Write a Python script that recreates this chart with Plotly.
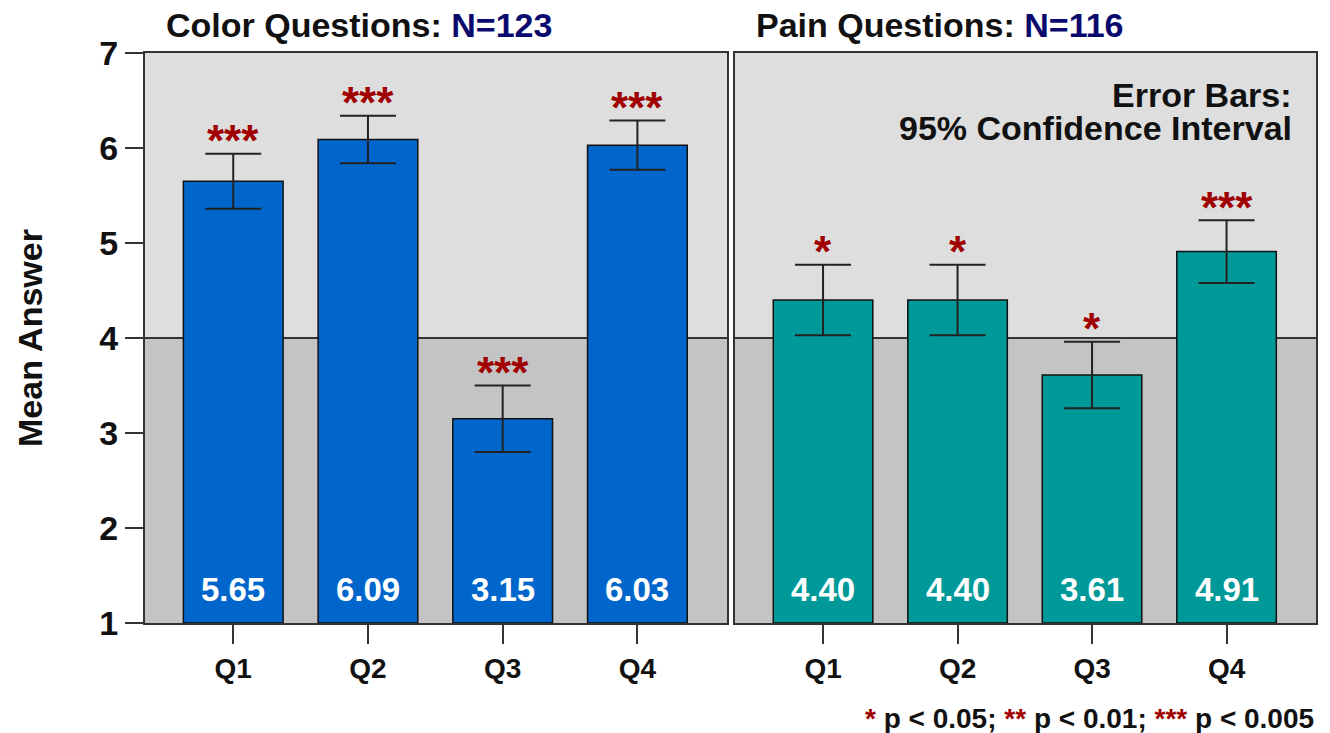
import plotly.graph_objects as go

categories = ["Q1", "Q2", "Q3", "Q4"]
color_means = [5.65, 6.09, 3.15, 6.03]
color_ci = [0.29, 0.25, 0.35, 0.26]
color_sig = ["***", "***", "***", "***"]
pain_means = [4.40, 4.40, 3.61, 4.91]
pain_ci = [0.37, 0.37, 0.35, 0.33]
pain_sig = ["*", "*", "*", "***"]
y_ticks = [1, 2, 3, 4, 5, 6, 7]
panel_titles = ["Color Questions: ", "Pain Questions: "]
panel_n = ["N=123", "N=116"]

FONT = "Liberation Sans, Arial, sans-serif"
BLUE = "#0066CC"
TEAL = "#009999"
UPPER = "#DEDEDE"
LOWER = "#C4C4C4"
RED = "#A00000"
NAVY = "#0A0A6E"
LINE = "#333333"

fig = go.Figure()

panels = [
    ("x", "y", color_means, color_ci, color_sig, BLUE),
    ("x2", "y2", pain_means, pain_ci, pain_sig, TEAL),
]

for i, (xa, ya, means, ci, sig, col) in enumerate(panels):
    fig.add_trace(go.Bar(
        x=categories, y=[m - 1 for m in means], base=1,
        xaxis=xa, yaxis=ya, width=0.74,
        marker=dict(color=col, line=dict(color="#111111", width=1.5)),
        error_y=dict(type="data", array=ci, visible=True, color="#222222",
                     thickness=2, width=28),
        hoverinfo="skip", showlegend=False,
    ))
    xref_dom = ("x" if i == 0 else "x2") + " domain"
    yref = "y" if i == 0 else "y2"
    # background bands
    fig.add_shape(type="rect", xref=xref_dom, yref=yref, x0=0, x1=1, y0=1, y1=4,
                  fillcolor=LOWER, line_width=0, layer="below")
    fig.add_shape(type="rect", xref=xref_dom, yref=yref, x0=0, x1=1, y0=4, y1=7,
                  fillcolor=UPPER, line_width=0, layer="below")
    fig.add_shape(type="line", xref=xref_dom, yref=yref, x0=0, x1=1, y0=4, y1=4,
                  line=dict(color=LINE, width=2), layer="below")
    # significance stars and value labels
    for c, m, e, s in zip(categories, means, ci, sig):
        fig.add_annotation(x=c, y=m + e, xref=xa, yref=ya, text=s, showarrow=False,
                           yanchor="middle", yshift=13,
                           font=dict(family=FONT, size=44, color=RED, weight="bold"))
        fig.add_annotation(x=c, y=1, xref=xa, yref=ya, text=f"{m:.2f}", showarrow=False,
                           yanchor="middle", yshift=34,
                           font=dict(family=FONT, size=33, color="white", weight="bold"))
    # panel titles
    fig.add_annotation(xref=xref_dom, yref="paper", x=0, y=1, xanchor="left",
                       yanchor="middle", xshift=19, yshift=28, showarrow=False,
                       text=f"{panel_titles[i]}<span style='color:{NAVY}'>{panel_n[i]}</span>",
                       font=dict(family=FONT, size=34, color="#111111", weight="bold"))

# error bar note (two lines, tight spacing)
for txt, ys in [("Error Bars:", -42), ("95% Confidence Interval", -75)]:
    fig.add_annotation(xref="x2 domain", yref="paper", x=1, y=1, xanchor="right",
                       yanchor="middle", xshift=-22, yshift=ys, showarrow=False,
                       text=txt, height=32,
                       font=dict(family=FONT, size=34, color="#111111", weight="bold"))

# footnote
fig.add_annotation(xref="paper", yref="paper", x=1, y=0, xanchor="right",
                   yanchor="middle", yshift=-95, xshift=0, showarrow=False,
                   text=(f"<span style='color:{RED}'>*</span> p &lt; 0.05; "
                         f"<span style='color:{RED}'>**</span> p &lt; 0.01; "
                         f"<span style='color:{RED}'>***</span> p &lt; 0.005"),
                   height=30,
                   font=dict(family=FONT, size=28, color="#111111", weight="bold"))

# y-axis title
fig.add_annotation(xref="paper", yref="paper", x=0, y=0.5, xanchor="center",
                   yanchor="middle", xshift=-115, showarrow=False, textangle=-90,
                   text="Mean Answer",
                   font=dict(family=FONT, size=34, color="#111111", weight="bold"))

xaxis_common = dict(
    range=[-0.655, 3.665], showline=True, mirror=True, linecolor=LINE, linewidth=2,
    ticks="outside", ticklen=19, tickwidth=2, tickcolor=LINE, showgrid=False,
    zeroline=False, fixedrange=True,
    tickfont=dict(family=FONT, size=28, color="#111111", weight="bold"),
)
yaxis_common = dict(
    range=[1, 7], showline=True, mirror=True, linecolor=LINE, linewidth=2,
    showgrid=False, zeroline=False, fixedrange=True, tickvals=y_ticks,
)

fig.update_layout(
    width=1330, height=733,
    margin=dict(l=145, r=14, t=53, b=110),
    paper_bgcolor="white", plot_bgcolor=UPPER,
    xaxis=dict(domain=[0, 0.497], **xaxis_common),
    xaxis2=dict(domain=[0.5038, 1], anchor="y2", **xaxis_common),
    yaxis=dict(anchor="x", ticks="outside", ticklen=18, tickwidth=2, tickcolor=LINE,
               tickfont=dict(family=FONT, size=34, color="#111111", weight="bold"),
               **yaxis_common),
    yaxis2=dict(anchor="x2", showticklabels=False, ticks="", **yaxis_common),
    showlegend=False,
)

fig.write_html("out.html", config={"displayModeBar": False},
               post_script="document.body.style.margin='0px';")
